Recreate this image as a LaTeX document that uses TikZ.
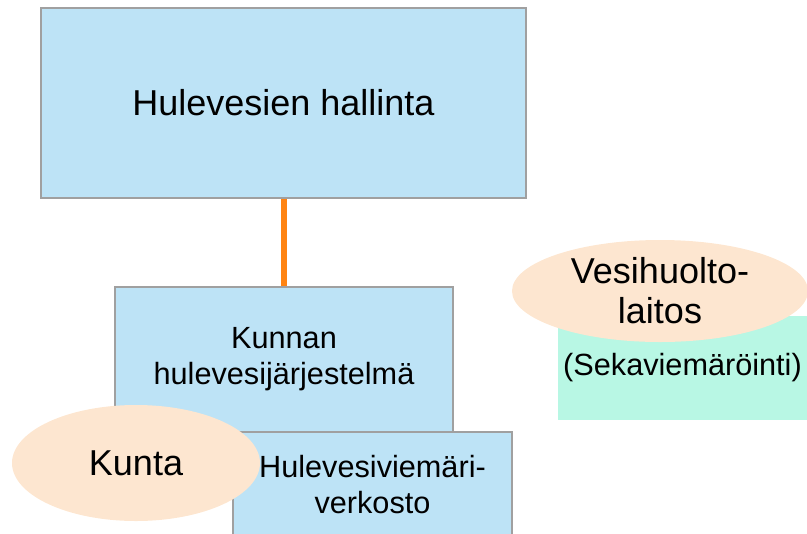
\documentclass[tikz,border=0pt]{standalone}
\usepackage{fontspec}
\setmainfont{Liberation Sans}
\usepackage{xcolor}
\usepackage{tikz}
\usetikzlibrary{shapes.geometric}
\definecolor{boxblue}{HTML}{BDE3F6}
\definecolor{boxline}{HTML}{A0A0A0}
\definecolor{peach}{HTML}{FDE6D0}
\definecolor{mint}{HTML}{B8F7E4}
\definecolor{linkorange}{HTML}{FF8412}
\newcommand\bigtext{\fontsize{27}{30}\selectfont}
\newcommand\midtext{\fontsize{23}{27}\selectfont}
\tikzstyle{unit}=[draw=boxline,line width=1.1pt,fill=boxblue,rectangle,inner sep=0pt,align=center]
\tikzstyle{actor}=[fill=peach,ellipse,inner sep=0pt,align=center,font=\bigtext]
\tikzstyle{link}=[draw=linkorange,line width=4.5pt]

\begin{document}
\begin{tikzpicture}[x=0.75pt,y=-0.75pt]
	\useasboundingbox (0,0) rectangle (807,533);
	\node[unit,minimum width=363.75pt,minimum height=142.5pt,font=\bigtext] (hallinta) at (283.5,103) {Hulevesien hallinta};
	\node[unit,minimum width=253.5pt,minimum height=108.75pt,font=\midtext] (kunnan) at (284,359.5) {Kunnan\\hulevesijärjestelmä};
	\draw[link] (hallinta.south) -- (hallinta.south |- kunnan.north);
	\node[unit,minimum width=209.25pt,minimum height=78.75pt,font=\midtext] (verkosto) at (372.5,484.5) {Hulevesiviemäri-\\verkosto};
	\node[actor,minimum width=186pt,minimum height=87pt] (kunta) at (136,463) {Kunta};
	\node[fill=mint,inner sep=0pt,minimum width=186.75pt,minimum height=78pt,font=\midtext] (seka) at (682.5,368) {(Sekaviemäröinti)};
	\node[actor,minimum width=222pt,minimum height=76.5pt] (laitos) at (660,291) {Vesihuolto-\\laitos};
\end{tikzpicture}
\end{document}
